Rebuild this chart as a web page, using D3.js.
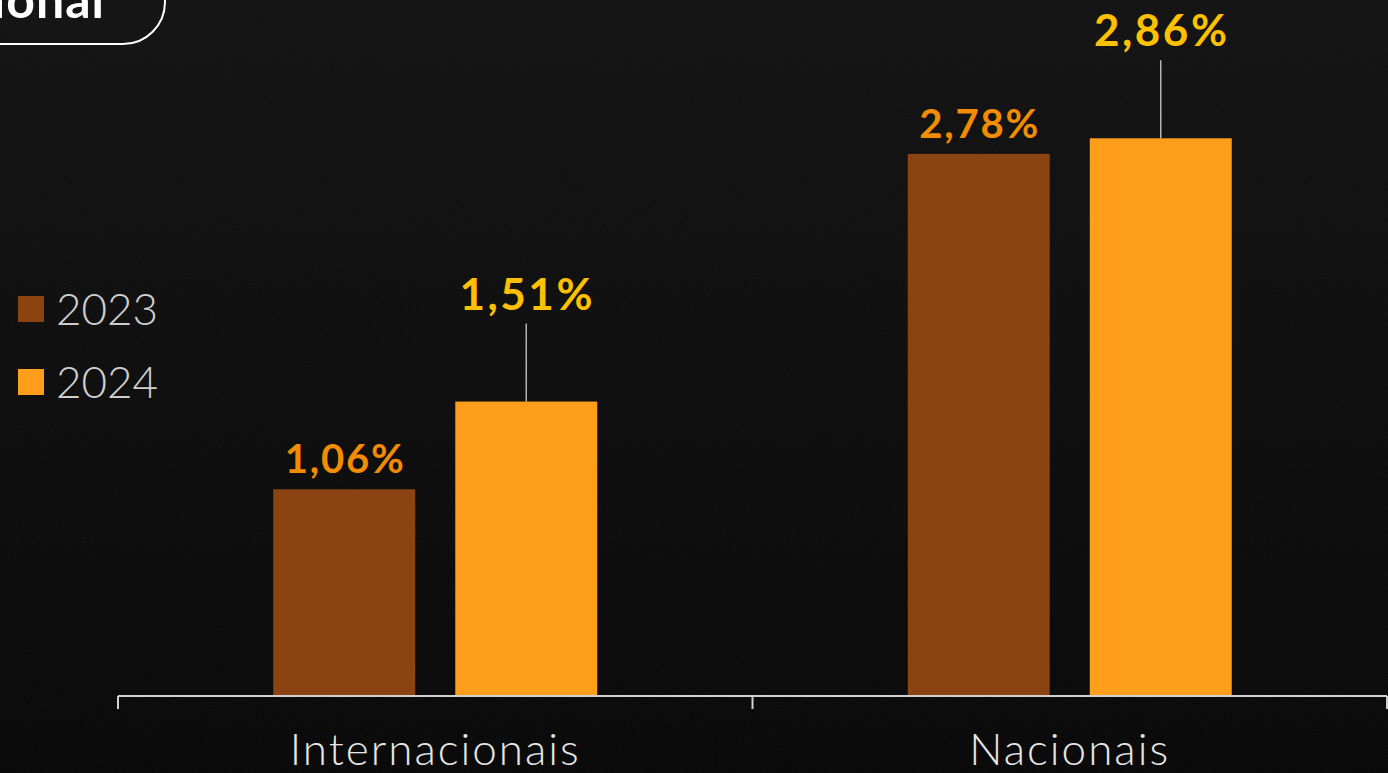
<!DOCTYPE html>
<html>
<head>
<meta charset="utf-8">
<script src="https://cdn.jsdelivr.net/npm/d3@7"></script>
<style>
  html, body { margin: 0; padding: 0; background: #0a0a0a; overflow: hidden; }
  svg { display: block; }
</style>
</head>
<body>
<svg id="chart" width="1388" height="773"></svg>
<script>
// Categories, series and values (percent)
const categories = ["Internacionais", "Nacionais"];
const seriesNames = ["2023", "2024"];
const values2023 = [1.06, 2.78];
const values2024 = [1.51, 2.86];
const valueLabels2023 = ["1,06%", "2,78%"];
const valueLabels2024 = ["1,51%", "2,86%"];
const headerText = "Internacional";

const W = 1388, H = 773;
const svg = d3.select("#chart");

const barColor = { "2023": "#8b4411", "2024": "#ff9e1a" };
const labelColor = { "2023": "#f28c00", "2024": "#ffc000" };
const labelSize = { "2023": 40, "2024": 44 };

// Background with subtle grain
const defs = svg.append("defs");
const bg = defs.append("linearGradient").attr("id", "bg").attr("x1", 0).attr("y1", 0).attr("x2", 0).attr("y2", 1);
bg.append("stop").attr("offset", "0%").attr("stop-color", "#121212");
bg.append("stop").attr("offset", "100%").attr("stop-color", "#070707");
const grain = defs.append("filter").attr("id", "grain").attr("x", 0).attr("y", 0).attr("width", "100%").attr("height", "100%");
grain.append("feTurbulence").attr("type", "fractalNoise").attr("baseFrequency", 0.9).attr("numOctaves", 2).attr("seed", 3);
grain.append("feColorMatrix").attr("type", "matrix")
  .attr("values", "0 0 0 0 0.45  0 0 0 0 0.45  0 0 0 0 0.45  0 0 0 0.08 0");

svg.append("rect").attr("width", W).attr("height", H).attr("fill", "url(#bg)");
svg.append("rect").attr("width", W).attr("height", H).attr("filter", "url(#grain)").attr("opacity", 0.6);

// Header pill (partially off-canvas)
svg.append("rect")
  .attr("x", -260).attr("y", -40).attr("width", 425).attr("height", 84).attr("rx", 42)
  .attr("fill", "none").attr("stroke", "#ffffff").attr("stroke-width", 2);
svg.append("text")
  .attr("x", 105).attr("y", 18).attr("text-anchor", "end")
  .attr("font-family", "Lato, 'Open Sans', sans-serif").attr("font-weight", 700)
  .attr("font-size", 50).attr("letter-spacing", 1).attr("fill", "#ffffff").text(headerText);

// Scales
const baseY = 696;
const x0 = d3.scaleBand().domain(categories).range([118, 1387]).paddingInner(0).paddingOuter(0);
const x1 = d3.scaleBand().domain(seriesNames).range([0, x0.bandwidth()]).paddingInner(0.22).paddingOuter(0.853);
const y = d3.scaleLinear().domain([0, 3]).range([baseY, baseY - 585]);

const rows = categories.map((c, i) => ({
  category: c,
  items: [
    { series: "2023", value: values2023[i], label: valueLabels2023[i] },
    { series: "2024", value: values2024[i], label: valueLabels2024[i] }
  ]
}));

const groups = svg.append("g").selectAll("g").data(rows).join("g")
  .attr("transform", d => `translate(${x0(d.category)},0)`);

groups.selectAll("rect").data(d => d.items).join("rect")
  .attr("x", d => x1(d.series))
  .attr("y", d => y(d.value))
  .attr("width", x1.bandwidth())
  .attr("height", d => baseY - y(d.value))
  .attr("fill", d => barColor[d.series]);

// Leader lines for the 2024 labels
const leader = 78;
groups.selectAll("line.leader").data(d => d.items.filter(e => e.series === "2024")).join("line")
  .attr("class", "leader")
  .attr("x1", d => x1(d.series) + x1.bandwidth() / 2)
  .attr("x2", d => x1(d.series) + x1.bandwidth() / 2)
  .attr("y1", d => y(d.value))
  .attr("y2", d => y(d.value) - leader)
  .attr("stroke", "#b5b5b5").attr("stroke-width", 1.5);

groups.selectAll("text.val").data(d => d.items).join("text")
  .attr("class", "val")
  .attr("x", d => x1(d.series) + x1.bandwidth() / 2 + 1)
  .attr("y", d => y(d.value) - (d.series === "2024" ? leader + 14 : 16))
  .attr("text-anchor", "middle")
  .attr("font-family", "Lato, 'Open Sans', sans-serif").attr("font-weight", 700)
  .attr("font-size", d => labelSize[d.series])
  .attr("letter-spacing", d => d.series === "2024" ? 2.5 : 1.8)
  .attr("fill", d => labelColor[d.series])
  .text(d => d.label);

// Category axis
const axis = svg.append("g").attr("transform", `translate(0,${baseY})`);
axis.append("line").attr("x1", 118).attr("x2", 1387).attr("y1", 0).attr("y2", 0)
  .attr("stroke", "#d0d0d0").attr("stroke-width", 2);
const tickXs = categories.map(c => x0(c)).concat([x0(categories[categories.length - 1]) + x0.bandwidth()]);
axis.selectAll("line.tick").data(tickXs).join("line")
  .attr("class", "tick")
  .attr("x1", d => d).attr("x2", d => d).attr("y1", 0).attr("y2", 13)
  .attr("stroke", "#d0d0d0").attr("stroke-width", 2);
axis.selectAll("text").data(categories).join("text")
  .attr("x", d => x0(d) + x0.bandwidth() / 2)
  .attr("y", 69)
  .attr("text-anchor", "middle")
  .attr("font-family", "Lato, 'Open Sans', sans-serif").attr("font-weight", 300)
  .attr("font-size", 44)
  .attr("letter-spacing", 2)
  .attr("fill", "#e6e6e6")
  .text(d => d);

// Legend
const legend = svg.append("g").selectAll("g").data(seriesNames).join("g")
  .attr("transform", (d, i) => `translate(18,${296 + i * 73})`);
legend.append("rect").attr("width", 26).attr("height", 26).attr("fill", d => barColor[d]);
legend.append("text")
  .attr("x", 38).attr("y", 29)
  .attr("font-family", "Lato, 'Open Sans', sans-serif").attr("font-weight", 300)
  .attr("font-size", 44)
  .attr("fill", "#cfcfcf")
  .text(d => d);
</script>
</body>
</html>
